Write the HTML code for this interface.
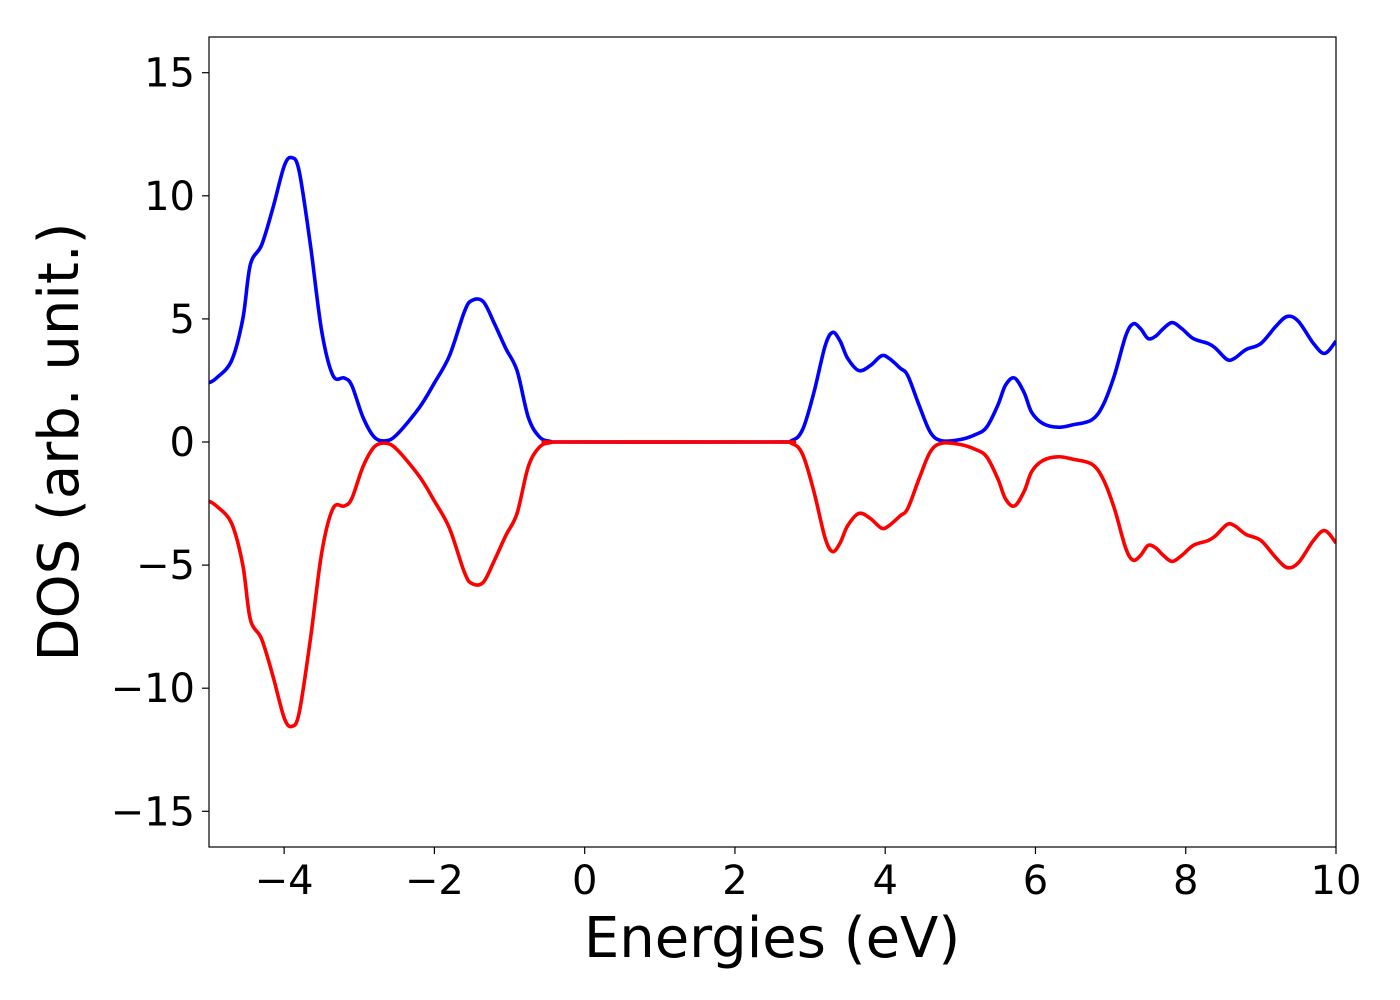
<!DOCTYPE html>
<html><head><meta charset="utf-8"><style>
html,body{margin:0;padding:0;background:#fff;width:1400px;height:1000px;overflow:hidden}
text{font-family:"DejaVu Sans","Liberation Sans",sans-serif;fill:#000}
</style></head><body>
<svg id="chart" width="1400" height="1000" xmlns="http://www.w3.org/2000/svg">
<defs><clipPath id="pc"><rect x="209" y="37" width="1127" height="810"/></clipPath></defs>
<rect x="0" y="0" width="1400" height="1000" fill="#fff"/>
<g id="series" clip-path="url(#pc)"></g>
<rect x="209" y="37" width="1127" height="810" fill="none" stroke="#000" stroke-width="1.2"/>
<g id="axes"></g>
<text x="772" y="957" font-size="56" text-anchor="middle">Energies (eV)</text>
<text transform="translate(78,442) rotate(-90)" font-size="56" text-anchor="middle">DOS (arb. unit.)</text>
</svg>
<script>
const energies=[-5,-4.9,-4.7,-4.55,-4.45,-4.3,-4.15,-4.0,-3.9,-3.8,-3.65,-3.5,-3.35,-3.2,-3.1,-2.95,-2.8,-2.65,-2.5,-2.2,-2.0,-1.8,-1.6,-1.5,-1.35,-1.2,-1.05,-0.9,-0.75,-0.6,-0.45,-0.3,2.5,2.75,2.9,3.05,3.2,3.3,3.4,3.5,3.65,3.8,3.95,4.05,4.2,4.3,4.45,4.6,4.75,5.0,5.2,5.35,5.5,5.6,5.72,5.85,5.95,6.1,6.3,6.5,6.75,6.9,7.05,7.2,7.3,7.4,7.5,7.6,7.7,7.82,7.95,8.1,8.3,8.4,8.55,8.65,8.8,9.0,9.2,9.35,9.5,9.7,9.85,10];
const dosUp=[2.4,2.6,3.3,5.0,7.2,8.0,9.5,11.2,11.55,11.0,8.0,4.5,2.7,2.6,2.3,1.0,0.2,0.05,0.3,1.4,2.4,3.5,5.3,5.75,5.7,4.8,3.8,2.9,1.0,0.2,0.02,0,0,0.05,0.5,2.0,3.9,4.45,4.1,3.4,2.9,3.1,3.5,3.4,3.0,2.7,1.5,0.4,0.05,0.1,0.3,0.6,1.5,2.3,2.6,2.0,1.2,0.75,0.6,0.7,0.9,1.5,2.7,4.3,4.8,4.6,4.2,4.3,4.6,4.85,4.6,4.2,4.0,3.8,3.35,3.4,3.75,4.0,4.7,5.1,4.9,4.0,3.6,4.1];
const dosDown=dosUp.map(v=>-v);
const xTicks=[-4,-2,0,2,4,6,8,10];
const yTicks=[-15,-10,-5,0,5,10,15];
const xMin=-5,xMax=10,yMin=-16.45,yMax=16.45;
const L=209,R=1336,T=37,B=847;
const sx=v=>L+(v-xMin)/(xMax-xMin)*(R-L);
const sy=v=>B-(v-yMin)/(yMax-yMin)*(B-T);
const NS='http://www.w3.org/2000/svg';
function pathFor(xs,ys){
  const p=xs.map((x,i)=>[sx(x),sy(ys[i])]);
  let d='M'+p[0][0]+','+p[0][1];
  for(let i=0;i<p.length-1;i++){
    const p0=p[Math.max(0,i-1)],p1=p[i],p2=p[i+1],p3=p[Math.min(p.length-1,i+2)];
    const c1x=p1[0]+(p2[0]-p0[0])/6,c1y=p1[1]+(p2[1]-p0[1])/6;
    const c2x=p2[0]-(p3[0]-p1[0])/6,c2y=p2[1]-(p3[1]-p1[1])/6;
    d+=' C'+c1x+','+c1y+' '+c2x+','+c2y+' '+p2[0]+','+p2[1];
  }
  return d;
}
const g=document.getElementById('series');
[[dosUp,'#0000ff','spin-up-line'],[dosDown,'#ff0000','spin-down-line']].forEach(s=>{
  const el=document.createElementNS(NS,'path');
  el.setAttribute('d',pathFor(energies,s[0]));
  el.setAttribute('fill','none');el.setAttribute('stroke',s[1]);el.setAttribute('stroke-width','3.6');
  
  
  g.appendChild(el);
});
const ax=document.getElementById('axes');
xTicks.forEach(v=>{
  const l=document.createElementNS(NS,'line');
  l.setAttribute('x1',sx(v));l.setAttribute('x2',sx(v));l.setAttribute('y1',B);l.setAttribute('y2',B+7);l.setAttribute('stroke','#000');l.setAttribute('stroke-width','1.2');
  
  
  ax.appendChild(l);
  const t=document.createElementNS(NS,'text');
  t.setAttribute('x',sx(v));t.setAttribute('y',894);t.setAttribute('font-size','40');t.setAttribute('text-anchor','middle');
  t.textContent=(v<0?'\u2212':'')+Math.abs(v);
  
  
  ax.appendChild(t);
});
yTicks.forEach(v=>{
  const l=document.createElementNS(NS,'line');
  l.setAttribute('x1',L-7);l.setAttribute('x2',L);l.setAttribute('y1',sy(v));l.setAttribute('y2',sy(v));l.setAttribute('stroke','#000');l.setAttribute('stroke-width','1.2');
  
  
  ax.appendChild(l);
  const t=document.createElementNS(NS,'text');
  t.setAttribute('x',L-14);t.setAttribute('y',sy(v)+14);t.setAttribute('font-size','40');t.setAttribute('text-anchor','end');
  t.textContent=(v<0?'\u2212':'')+Math.abs(v);
  
  
  ax.appendChild(t);
});
</script>
</body></html>
